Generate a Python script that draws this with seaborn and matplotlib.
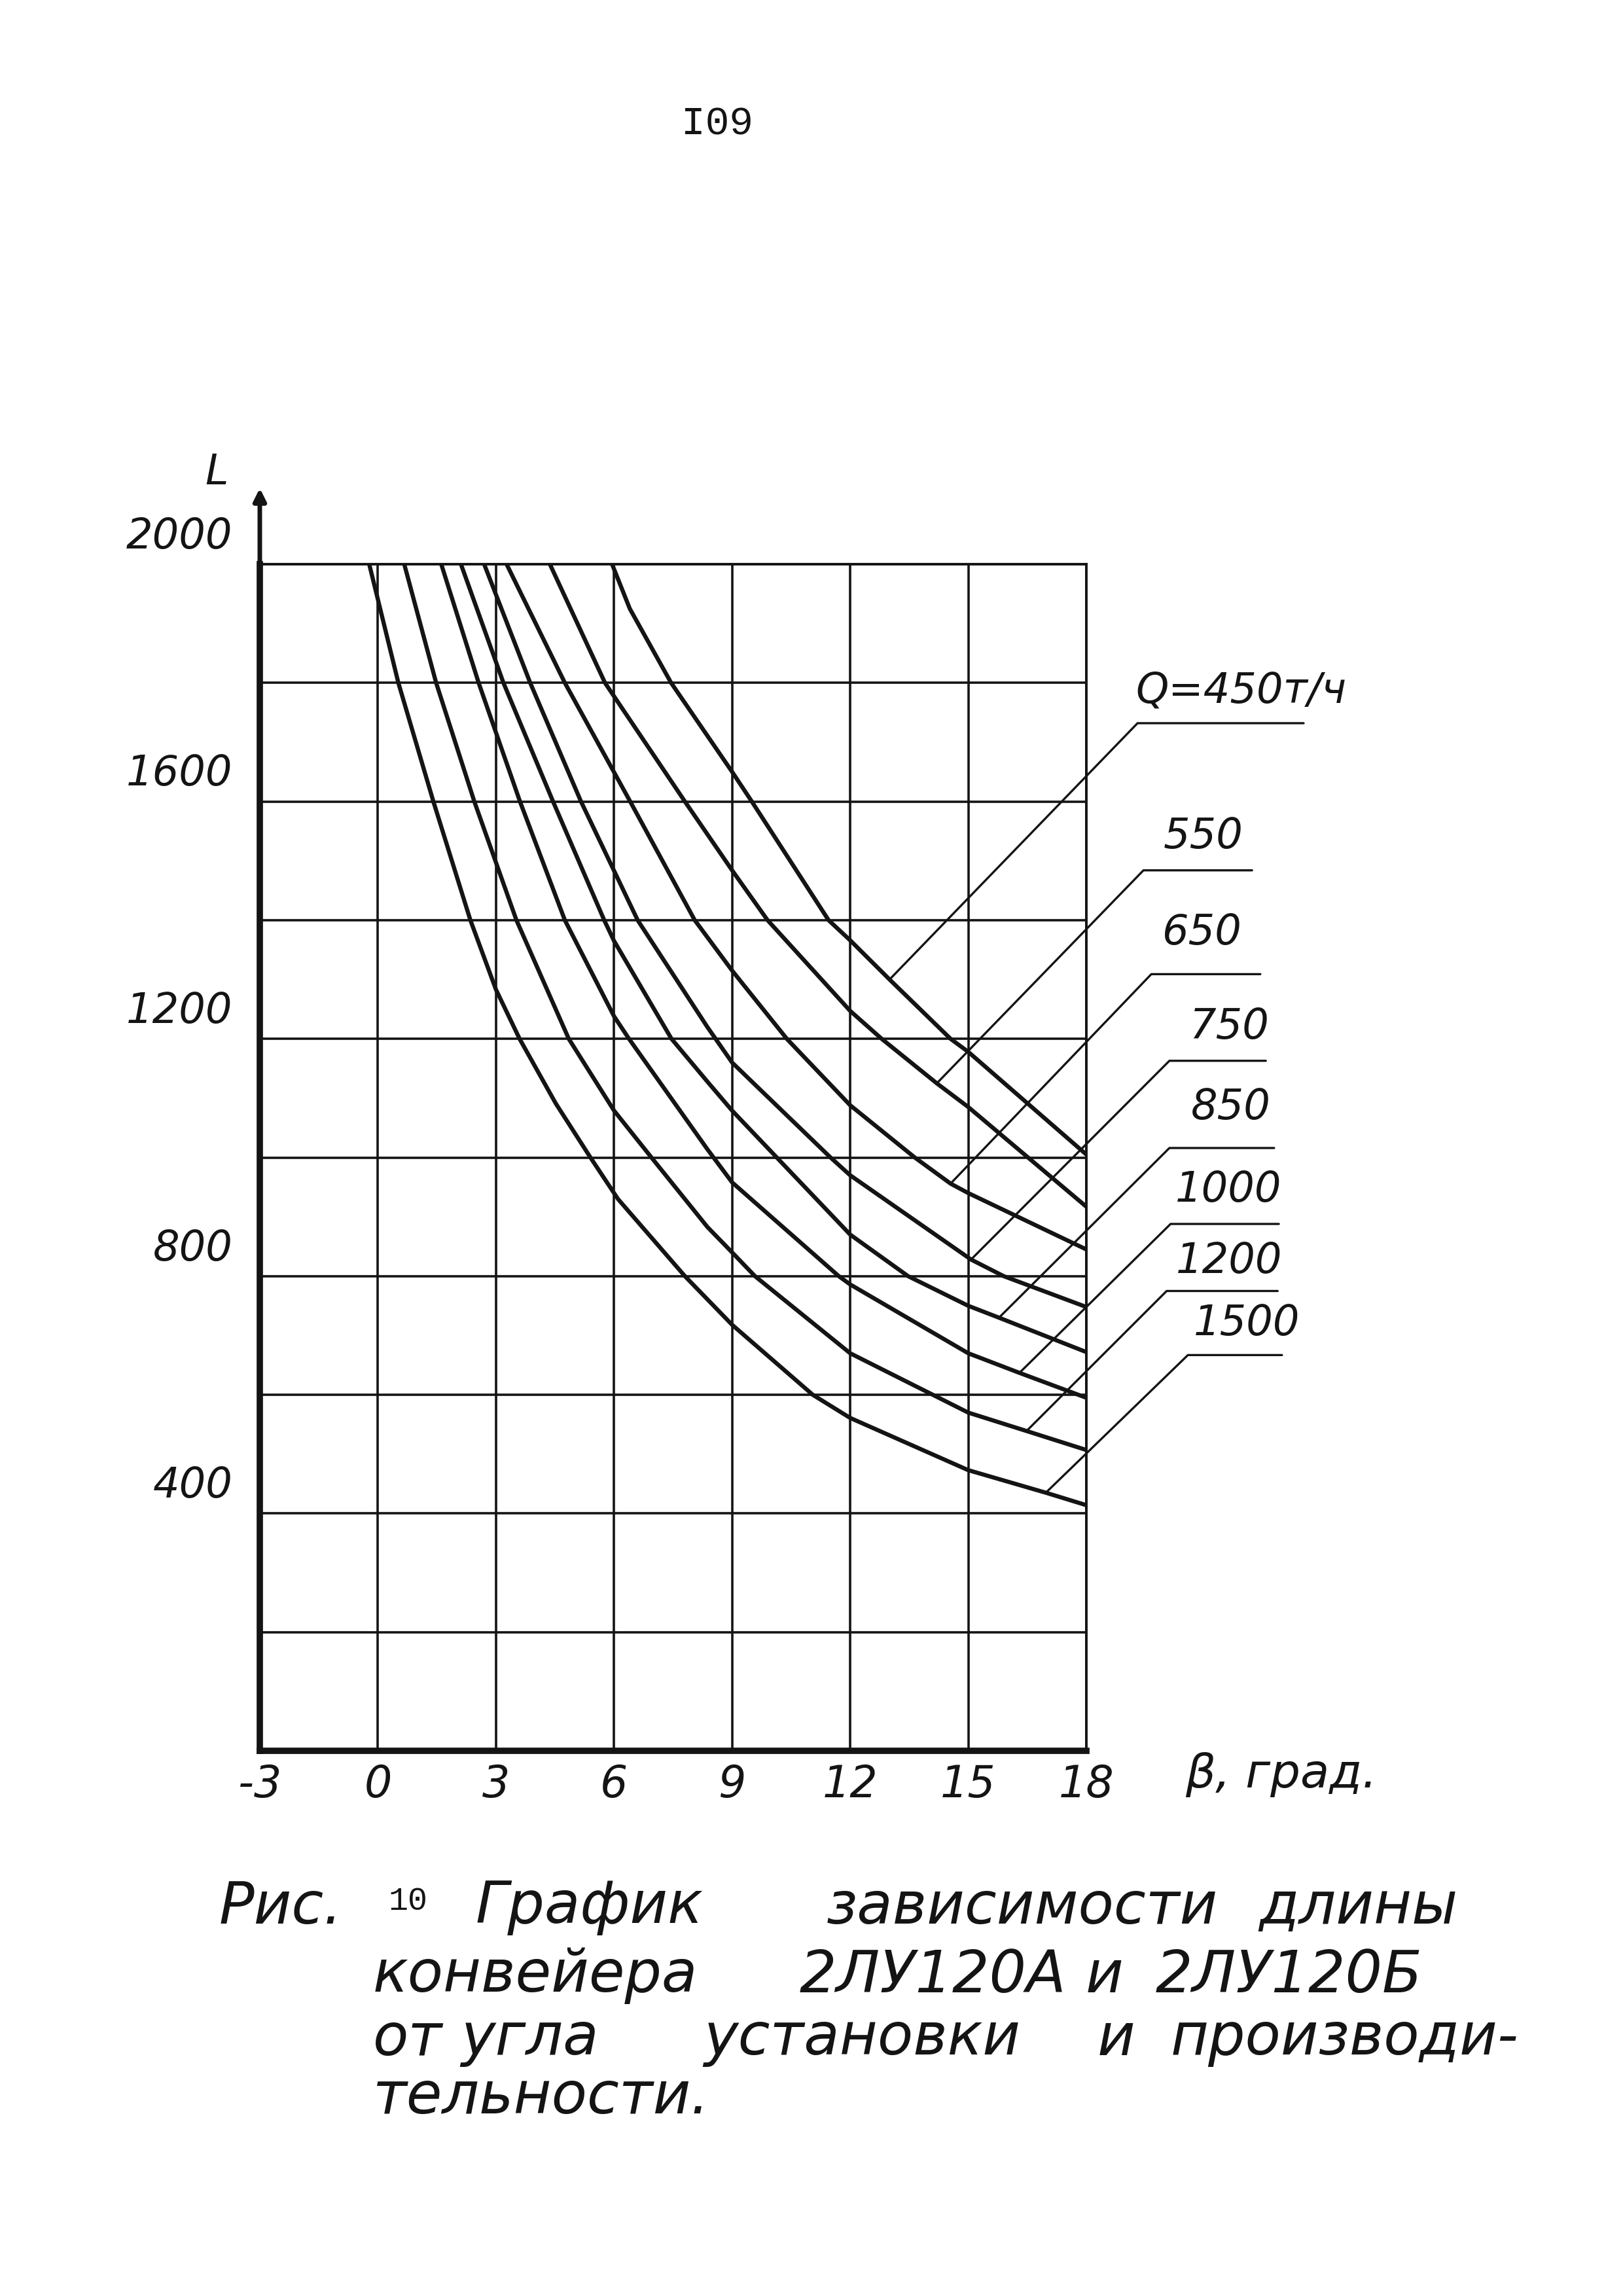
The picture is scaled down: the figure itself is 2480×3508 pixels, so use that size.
import numpy as np
import pandas as pd
import matplotlib
matplotlib.use("Agg")
import matplotlib.pyplot as plt
import seaborn as sns
from matplotlib.transforms import ScaledTranslation

# ---------------- data ----------------
Q_values = [450, 550, 650, 750, 850, 1000, 1200, 1500]

beta_q450 = [5.95, 6.4, 7.45, 9.0, 9.5, 11.45, 12.0, 13.0, 14.55, 15.0, 18.0]
L_q450 = [2000, 1925, 1800, 1650, 1600, 1400, 1366, 1300, 1200, 1178, 1005]

beta_q550 = [4.37, 5.77, 7.8, 9.0, 9.9, 12.0, 12.8, 14.2, 15.0, 18.0]
L_q550 = [2000, 1800, 1600, 1484, 1400, 1247, 1200, 1125, 1085, 917]

beta_q650 = [3.27, 4.75, 6.41, 8.05, 9.0, 10.39, 12.0, 13.64, 14.55, 15.0, 18.0]
L_q650 = [2000, 1800, 1600, 1400, 1315, 1200, 1088, 1000, 956, 940, 845]

beta_q750 = [2.70, 3.87, 5.16, 6.6, 8.37, 9.0, 11.5, 12.0, 15.07, 15.9, 18.0]
L_q750 = [2000, 1800, 1600, 1400, 1220, 1160, 1000, 970, 828, 800, 748]

beta_q850 = [2.11, 3.19, 4.45, 5.75, 6.0, 7.46, 8.37, 9.0, 12.0, 13.47, 15.0, 15.78, 18.0]
L_q850 = [2000, 1800, 1600, 1400, 1365, 1200, 1128, 1079, 870, 800, 750, 730, 672]

beta_q1000 = [1.61, 2.56, 3.61, 4.75, 6.0, 6.38, 8.37, 9.0, 11.71, 12.0, 15.0, 16.3, 18.0]
L_q1000 = [2000, 1800, 1600, 1400, 1238, 1200, 1014, 958, 800, 786, 670, 637, 595]

beta_q1200 = [0.67, 1.48, 2.45, 3.52, 4.85, 6.0, 6.95, 8.37, 9.0, 9.58, 12.0, 15.0, 16.48, 18.0]
L_q1200 = [2000, 1800, 1600, 1400, 1200, 1079, 1000, 883, 840, 800, 670, 570, 539, 507]

beta_q1500 = [-0.22, 0.52, 1.41, 2.35, 3.0, 3.6, 4.52, 5.4, 6.1, 7.8, 9.0, 11.05, 12.0, 15.0, 16.97, 18.0]
L_q1500 = [2000, 1800, 1600, 1400, 1283, 1200, 1091, 1000, 930, 800, 718, 600, 561, 473, 435, 414]

x_ticks = [-3, 0, 3, 6, 9, 12, 15, 18]
y_grid = [0, 200, 400, 600, 800, 1000, 1200, 1400, 1600, 1800, 2000]
y_labelled = [400, 800, 1200, 1600, 2000]
curve_labels = ["Q=450т/ч", "550", "650", "750", "850", "1000", "1200", "1500"]

caption_words = [
    ["Рис.", "График", "зависимости", "длины"],
    ["конвейера", "2ЛУ120А", "и", "2ЛУ120Б"],
    ["от", "угла", "установки", "и", "производи-"],
    ["тельности."],
]

# ---------------- annotation / layout positions ----------------
anchor_beta = [13.0, 14.2, 14.55, 15.07, 15.78, 16.3, 16.48, 16.97]
shelf_x0 = [19.30, 19.45, 19.65, 20.11, 20.11, 20.14, 20.04, 20.58]
shelf_x1 = [23.52, 22.21, 22.42, 22.56, 22.77, 22.89, 22.86, 22.97]
shelf_L = [1732, 1484, 1309, 1163, 1016, 888, 775, 667]
text_x = [19.25, 19.96, 19.93, 20.61, 20.66, 20.26, 20.28, 20.73]
text_L = [1752, 1507, 1345, 1186, 1050, 911, 791, 686]

caption_x = [
    [335, 727, 1263, 1923],
    [570, 1222, 1659, 1766],
    [570, 704, 1075, 1677, 1789],
    [570],
]
caption_y = [2914, 3019, 3115, 3204]

betas = [beta_q450, beta_q550, beta_q650, beta_q750, beta_q850, beta_q1000, beta_q1200, beta_q1500]
Ls = [L_q450, L_q550, L_q650, L_q750, L_q850, L_q1000, L_q1200, L_q1500]

rows = []
for q, bs, ls in zip(Q_values, betas, Ls):
    for b, l in zip(bs, ls):
        rows.append({"beta": b, "L": l, "Q": str(q)})
df = pd.DataFrame(rows)

# ---------------- style ----------------
sns.set_style("white")
plt.rcParams["font.family"] = ["DejaVu Sans"]
INK = "#141414"

W, H = 2480, 3508
fig = plt.figure(figsize=(W / 100, H / 100), dpi=100)
fig.patch.set_facecolor("white")
ax = fig.add_axes([397 / W, 1 - 2675 / H, (1660 - 397) / W, (2675 - 862) / H])

sns.lineplot(data=df, x="beta", y="L", hue="Q", estimator=None, sort=False,
             palette={str(q): INK for q in Q_values}, legend=False,
             linewidth=4.6, ax=ax)
for ln in ax.get_lines():
    ln.set_solid_joinstyle("round")
    ln.set_solid_capstyle("round")

ax.set_xlim(-3, 18)
ax.set_ylim(0, 2000)
ax.set_xticks(x_ticks)
ax.set_yticks(y_grid)
ax.grid(True, color=INK, linewidth=2.6)
ax.set_axisbelow(True)
ax.set_xlabel("")
ax.set_ylabel("")

for side in ["top", "right"]:
    ax.spines[side].set_visible(True)
    ax.spines[side].set_linewidth(2.8)
    ax.spines[side].set_color(INK)
for side in ["left", "bottom"]:
    ax.spines[side].set_linewidth(7)
    ax.spines[side].set_color(INK)

ax.tick_params(axis="both", length=0)
ax.set_xticklabels([str(v) for v in x_ticks], fontsize=48, style="oblique", color=INK)
ax.tick_params(axis="x", pad=14)
ax.set_yticklabels([str(v) if v in y_labelled else "" for v in y_grid],
                   fontsize=46, style="oblique", color=INK)
ax.tick_params(axis="y", pad=30)
for lab in ax.get_yticklabels():
    lab.set_verticalalignment("bottom")
    lab.set_transform(lab.get_transform() + ScaledTranslation(0, 8 / 72, fig.dpi_scale_trans))

# axis arrow
ax.annotate("", xy=(-3, 2128), xytext=(-3, 1995), xycoords="data",
            arrowprops=dict(arrowstyle="-|>", lw=5, color=INK, mutation_scale=28,
                            shrinkA=0, shrinkB=0),
            annotation_clip=False)

# leaders and curve labels
for lab, bs, ls, ab, x0, x1, sl, tx, tl in zip(curve_labels, betas, Ls, anchor_beta,
                                               shelf_x0, shelf_x1, shelf_L, text_x, text_L):
    la = float(np.interp(ab, bs, ls))
    ax.plot([ab, x0, x1], [la, sl, sl], color=INK, lw=2.4, clip_on=False,
            solid_capstyle="round", solid_joinstyle="round")
    ax.text(tx, tl, lab, fontsize=46, style="oblique", color=INK,
            ha="left", va="bottom", clip_on=False)

# axis titles
fig.text(331 / W, 1 - 722 / H, "L", fontsize=46, style="oblique", color=INK,
         ha="center", va="center")
fig.text(1811 / W, 1 - 2712 / H, "β, град.", fontsize=52, style="oblique", color=INK,
         ha="left", va="center")

# page number
fig.text(1096 / W, 1 - 190 / H, "I09", fontsize=44, family="Liberation Mono",
         color=INK, ha="center", va="center")

# caption
cap_kw = dict(fontsize=64, style="oblique", color=INK, ha="left", va="center")
for words, xs, yy in zip(caption_words, caption_x, caption_y):
    for w_, xx in zip(words, xs):
        fig.text(xx / W, 1 - yy / H, w_, **cap_kw)
fig.text(593 / W, 1 - 2905 / H, "10", fontsize=36, family="Liberation Mono",
         color=INK, ha="left", va="center")

fig.savefig("out.png", dpi=100, facecolor="white")
